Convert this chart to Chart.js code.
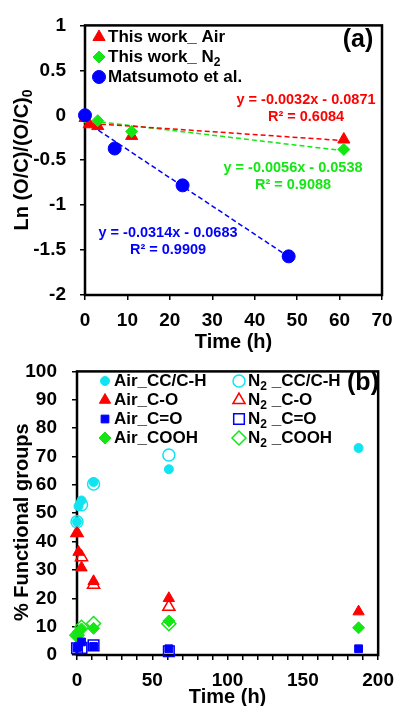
<!DOCTYPE html>
<html>
<head>
<meta charset="utf-8">
<script src="https://cdn.jsdelivr.net/npm/chart.js@4.4.1/dist/chart.umd.min.js"></script>
<style>
  html, body { margin: 0; padding: 0; background: #fff; overflow: hidden; }
  #wrap { position: relative; width: 403px; height: 706px; }
  #boxA { position: absolute; left: 0; top: 0; width: 403px; height: 356px; }
  #boxB { position: absolute; left: 0; top: 345px; width: 403px; height: 364px; }
</style>
</head>
<body>
<div id="wrap">
  <div id="boxA"><canvas id="chartA"></canvas></div>
  <div id="boxB"><canvas id="chartB"></canvas></div>
</div>
<script>
// ---- panel (a): Ln (O/C)/(O/C)0 vs time ----
const airTimeA = [0, 1, 3, 11, 61];
const airLnA = [-0.03, -0.1, -0.12, -0.23, -0.27];
const n2TimeA = [0, 3, 11, 61];
const n2LnA = [-0.02, -0.06, -0.18, -0.38];
const matsuTime = [0, 7, 23, 48];
const matsuLn = [0, -0.37, -0.78, -1.57];

// trend line end points (x, y)
const airTrend = [[0, -0.087], [61, -0.282]];
const n2Trend = [[0, -0.054], [61, -0.395]];
const matsuTrend = [[0, -0.068], [48, -1.575]];

const legendA = ['This work_ Air', 'This work_ N~2', 'Matsumoto et al.'];
const eqAir = ['y = -0.0032x - 0.0871', 'R² = 0.6084'];
const eqN2 = ['y = -0.0056x - 0.0538', 'R² = 0.9088'];
const eqMatsu = ['y = -0.0314x - 0.0683', 'R² = 0.9909'];

const xTicksA = [0, 10, 20, 30, 40, 50, 60, 70];
const yTicksA = [-2, -1.5, -1, -0.5, 0, 0.5, 1];

// ---- panel (b): % functional groups vs time ----
const airTimeB = [0, 1, 3, 11, 61, 187];
const n2TimeB = [0, 3, 11, 61];
const airCC = [47, 52.5, 54.5, 61, 65.5, 73];
const n2CC = [47, 53, 60.3, 70.5];
const airCO = [43, 36.3, 30.8, 26, 20, 15.3];
const n2CO = [43, 34.5, 24.8, 17];
const airCdO = [2.5, 3, 4.6, 3, 2.2, 2.2];
const n2CdO = [2.4, 2.5, 3.4, 1.3];
const airCOOH = [6.9, 8.2, 9.2, 9.4, 12, 9.6];
const n2COOH = [7, 9.8, 11.1, 11];

const legendB = [
  ['Air_CC/C-H', 'N~2 _CC/C-H'],
  ['Air_C-O', 'N~2 _C-O'],
  ['Air_C=O', 'N~2 _C=O'],
  ['Air_COOH', 'N~2 _COOH']
];
const xTicksB = [0, 50, 100, 150, 200];
const yTicksB = [0, 10, 20, 30, 40, 50, 60, 70, 80, 90, 100];

const RED = '#ff0000', GREEN = '#14e614', BLUE = '#0000ff', CYAN = '#10e4f0';
const FONT = "'Liberation Sans', Arial, sans-serif";

Chart.defaults.font.family = FONT;
Chart.defaults.font.weight = 'bold';
Chart.defaults.color = '#000';

function pts(xs, ys) { return xs.map((x, i) => ({ x: x, y: ys[i] })); }

// '~' marks the next character as a subscript
function drawRich(ctx, str, x, y, size, align) {
  const parts = [];
  for (let i = 0; i < str.length; i++) {
    if (str[i] === '~') { parts.push({ t: str[i + 1], sub: true }); i++; }
    else if (parts.length && !parts[parts.length - 1].sub) parts[parts.length - 1].t += str[i];
    else parts.push({ t: str[i], sub: false });
  }
  const mainF = 'bold ' + size + 'px ' + FONT;
  const subF = 'bold ' + Math.round(size * 0.68) + 'px ' + FONT;
  let w = 0;
  parts.forEach(p => { ctx.font = p.sub ? subF : mainF; p.w = ctx.measureText(p.t).width; w += p.w; });
  let cx = align === 'center' ? x - w / 2 : x;
  ctx.textAlign = 'left';
  ctx.textBaseline = 'middle';
  parts.forEach(p => {
    ctx.font = p.sub ? subF : mainF;
    ctx.fillText(p.t, cx, p.sub ? y + size * 0.32 : y);
    cx += p.w;
  });
}

function marker(ctx, ds, x, y) {
  ctx.save();
  ctx.fillStyle = ds.backgroundColor;
  ctx.strokeStyle = ds.borderColor;
  ctx.lineWidth = ds.borderWidth;
  Chart.helpers.drawPoint(ctx, { pointStyle: ds.pointStyle, radius: ds.pointRadius, rotation: 0, borderWidth: ds.borderWidth }, x, y);
  ctx.restore();
}

function axisStyle(min, max, step, pad, size) {
  return {
    type: 'linear', min: min, max: max,
    ticks: { stepSize: step, padding: pad, font: { size: size, weight: 'bold' }, color: '#000', maxRotation: 0, autoSkip: false },
    grid: { display: true, drawOnChartArea: false, drawTicks: true, tickLength: 5, color: '#000', lineWidth: 1.5 },
    border: { display: false }
  };
}

const frame = {
  id: 'frame',
  beforeDatasetsDraw(chart) {
    const a = chart.chartArea, ctx = chart.ctx;
    ctx.save();
    ctx.strokeStyle = '#000';
    ctx.lineWidth = 2.5;
    ctx.strokeRect(a.left, a.top, a.right - a.left, a.bottom - a.top);
    ctx.restore();
  }
};

// ---------- chart (a) ----------
const xA = axisStyle(0, 70, 10, 9, 19);
xA.ticks.callback = v => xTicksA.includes(v) ? v : '';
xA.title = { display: true, text: 'Time (h)', font: { size: 20, weight: 'bold' }, padding: { top: 0, bottom: 2 } };
xA.afterFit = s => { s.height = 61; };
const yA = axisStyle(-2, 1, 0.5, 14, 19);
yA.ticks.callback = v => yTicksA.includes(v) ? v : '';
yA.afterFit = s => { s.width = 85; };

const dsA = [
  { data: pts(matsuTime, matsuLn), pointStyle: 'circle', pointRadius: 6.5, backgroundColor: BLUE, borderColor: BLUE, borderWidth: 1, order: 0 },
  { data: pts(n2TimeA, n2LnA), pointStyle: 'rectRot', pointRadius: 6, backgroundColor: GREEN, borderColor: GREEN, borderWidth: 1, order: 1 },
  { data: pts(airTimeA, airLnA), pointStyle: 'triangle', pointRadius: 7, backgroundColor: RED, borderColor: RED, borderWidth: 1, order: 2 },
  { data: airTrend.map(p => ({ x: p[0], y: p[1] })), showLine: true, pointRadius: 0, borderColor: RED, borderWidth: 1.5, borderDash: [5, 3], order: 3 },
  { data: n2Trend.map(p => ({ x: p[0], y: p[1] })), showLine: true, pointRadius: 0, borderColor: GREEN, borderWidth: 1.5, borderDash: [5, 3], order: 4 },
  { data: matsuTrend.map(p => ({ x: p[0], y: p[1] })), showLine: true, pointRadius: 0, borderColor: BLUE, borderWidth: 1.5, borderDash: [5, 3], order: 5 }
];
dsA.forEach(d => { d.clip = false; d.pointHoverRadius = d.pointRadius; });

const decorA = {
  id: 'decorA',
  afterDatasetsDraw(chart) {
    const ctx = chart.ctx;
    ctx.save();
    ctx.fillStyle = '#000';
    // legend
    const legendSets = [dsA[2], dsA[1], dsA[0]];
    legendA.forEach((txt, i) => {
      const y = 37 + i * 20;
      marker(ctx, legendSets[i], 99, y);
      ctx.fillStyle = '#000';
      drawRich(ctx, txt, 108, y, 17, 'left');
    });
    // equations
    const eqs = [[eqAir, RED, 306, 100], [eqN2, GREEN, 293, 168], [eqMatsu, BLUE, 168, 233]];
    eqs.forEach(e => {
      ctx.fillStyle = e[1];
      drawRich(ctx, e[0][0], e[2], e[3], 14.5, 'center');
      drawRich(ctx, e[0][1], e[2], e[3] + 17, 14.5, 'center');
    });
    // panel label
    ctx.fillStyle = '#000';
    drawRich(ctx, '(a)', 358, 40, 25, 'center');
    // y title
    ctx.translate(22, 160);
    ctx.rotate(-Math.PI / 2);
    drawRich(ctx, 'Ln (O/C)/(O/C)~0', 0, 0, 20, 'center');
    ctx.restore();
  }
};

new Chart(document.getElementById('chartA'), {
  type: 'scatter',
  data: { datasets: dsA },
  options: {
    responsive: true, maintainAspectRatio: false, animation: false,
    layout: { padding: { top: 20, right: 21, left: 0, bottom: 0 } },
    scales: { x: xA, y: yA },
    plugins: { legend: { display: false }, tooltip: { enabled: false } }
  },
  plugins: [frame, decorA]
});

// ---------- chart (b) ----------
const xB = axisStyle(0, 200, 10, 9, 19);
xB.ticks.callback = v => xTicksB.includes(v) ? v : '';
xB.title = { display: true, text: 'Time (h)', font: { size: 20, weight: 'bold' }, padding: { top: 0, bottom: 0 } };
xB.afterFit = s => { s.height = 54; };
const yB = axisStyle(0, 100, 10, 15, 19);
yB.ticks.callback = v => yTicksB.includes(v) ? v : '';
yB.afterFit = s => { s.width = 77; };

function filled(xs, ys, style, r, col, order) {
  return { data: pts(xs, ys), pointStyle: style, pointRadius: r, backgroundColor: col, borderColor: col, borderWidth: 1, order: order, clip: false, pointHoverRadius: r };
}
function open(xs, ys, style, r, col, order) {
  return { data: pts(xs, ys), pointStyle: style, pointRadius: r, backgroundColor: 'rgba(0,0,0,0)', borderColor: col, borderWidth: 1.5, order: order, clip: false, pointHoverRadius: r };
}

const dsB = [
  filled(airTimeB, airCC, 'circle', 4.5, CYAN, 0),
  filled(airTimeB, airCO, 'triangle', 6.5, RED, 1),
  filled(airTimeB, airCdO, 'rect', 5.5, BLUE, 2),
  filled(airTimeB, airCOOH, 'rectRot', 6, GREEN, 3),
  open(n2TimeB, n2CC, 'circle', 6, CYAN, 4),
  open(n2TimeB, n2CO, 'triangle', 7, RED, 5),
  open(n2TimeB, n2CdO, 'rect', 7.5, BLUE, 6),
  open(n2TimeB, n2COOH, 'rectRot', 7, GREEN, 7)
];

const decorB = {
  id: 'decorB',
  afterDatasetsDraw(chart) {
    const ctx = chart.ctx;
    ctx.save();
    legendB.forEach((row, i) => {
      const y = 36 + i * 19;
      marker(ctx, dsB[i], 105, y);
      marker(ctx, dsB[i + 4], 239, y);
      ctx.fillStyle = '#000';
      drawRich(ctx, row[0], 114, y, 17, 'left');
      drawRich(ctx, row[1], 248, y, 17, 'left');
    });
    drawRich(ctx, '(b)', 363, 38, 25, 'center');
    const a = chart.chartArea;
    ctx.translate(22, (a.top + a.bottom) / 2 + 9);
    ctx.rotate(-Math.PI / 2);
    drawRich(ctx, '% Functional groups', 0, 0, 20, 'center');
    ctx.restore();
  }
};

new Chart(document.getElementById('chartB'), {
  type: 'scatter',
  data: { datasets: dsB },
  options: {
    responsive: true, maintainAspectRatio: false, animation: false,
    layout: { padding: { top: 20, right: 20, left: 0, bottom: 0 } },
    scales: { x: xB, y: yB },
    plugins: { legend: { display: false }, tooltip: { enabled: false } }
  },
  plugins: [frame, decorB]
});
</script>
</body>
</html>
